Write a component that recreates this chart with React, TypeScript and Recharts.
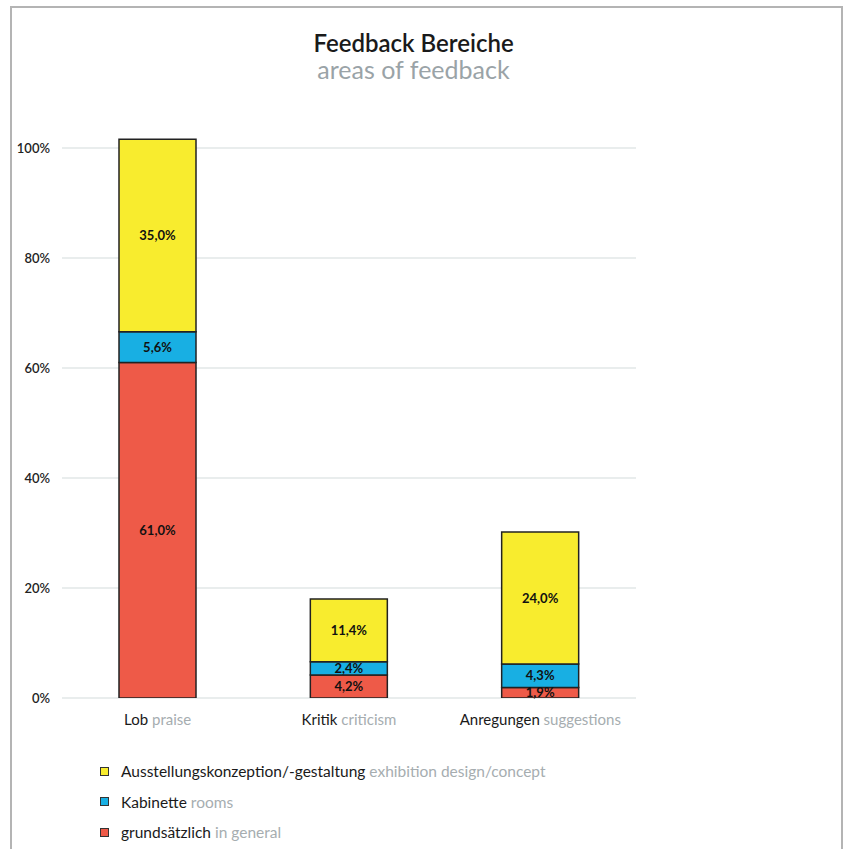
import { BarChart, Bar, XAxis, YAxis, CartesianGrid, LabelList } from 'recharts'

const FONT = 'Lato, "Open Sans", sans-serif'

const categories = ['Lob', 'Kritik', 'Anregungen']
const categoriesEn = ['praise', 'criticism', 'suggestions']
const generalValues = [61.0, 4.2, 1.9]
const roomValues = [5.6, 2.4, 4.3]
const designValues = [35.0, 11.4, 24.0]
const yTicks = [0, 20, 40, 60, 80, 100]
const Y_MAX = 110

const series = [
  { key: 'general', de: 'grundsätzlich', en: 'in general', color: '#EE5A48' },
  { key: 'rooms', de: 'Kabinette', en: 'rooms', color: '#18AFE3' },
  { key: 'design', de: 'Ausstellungskonzeption/-gestaltung', en: 'exhibition design/concept', color: '#F8EC2E' },
]

const data = categories.map((name, i) => ({
  name,
  en: categoriesEn[i],
  general: generalValues[i],
  rooms: roomValues[i],
  design: designValues[i],
}))

const fmt = (v: unknown) => `${Number(v).toFixed(1).replace('.', ',')}%`

// grid only at the labelled ticks, not at the top of the (padded) domain
const gridRows = ({ yAxis, offset }: any) => {
  const scale = yAxis?.scale
  if (typeof scale === 'function') return yTicks.map(t => scale(t))
  return yTicks.map(t => offset.top + offset.height * (1 - t / Y_MAX))
}

function CategoryTick({ x, y, payload, index }: any) {
  return (
    <text x={x} y={y + 19} textAnchor="middle" fontFamily={FONT} fontSize={15}>
      <tspan fill="#1a1a1a">{payload.value}</tspan>
      <tspan fill="#a6adb0"> {categoriesEn[index]}</tspan>
    </text>
  )
}

export default function App() {
  const legendItems = [...series].reverse()
  return (
    <div style={{ position: 'absolute', left: 0, top: 0, width: 847, height: 849, background: '#fff', overflow: 'hidden', fontFamily: FONT }}>
      <div
        style={{
          position: 'absolute', left: 10, top: 6, width: 829, height: 860,
          borderTop: '2px solid #b4b4b4', borderLeft: '2px solid #b4b4b4', borderRight: '2px solid #b4b4b4',
        }}
      />
      <div style={{ position: 'absolute', left: 0, width: 827, top: 29, textAlign: 'center', lineHeight: '27px' }}>
        <div style={{ fontSize: 24, fontWeight: 600, color: '#1a1a1a' }}>Feedback Bereiche</div>
        <div style={{ fontSize: 25, color: '#9aa3a7' }}>areas of feedback</div>
      </div>
      <div style={{ position: 'absolute', left: 0, top: 0 }}>
        <BarChart
          width={847}
          height={760}
          data={data}
          margin={{ top: 93, right: 211, bottom: 0, left: 0 }}
        >
          <CartesianGrid
            vertical={false}
            stroke="#e2e7e7"
            strokeWidth={1.5}
            horizontalCoordinatesGenerator={gridRows}
          />
          <XAxis
            dataKey="name"
            axisLine={false}
            tickLine={false}
            height={62}
            tick={<CategoryTick />}
            interval={0}
          />
          <YAxis
            type="number"
            domain={[0, Y_MAX]}
            ticks={yTicks}
            allowDataOverflow
            width={62}
            axisLine={false}
            tickLine={false}
            tickSize={0}
            tickMargin={12}
            tickFormatter={v => `${v}%`}
            tick={{ fill: '#222', fontSize: 13, fontFamily: FONT, fontWeight: 600 }}
          />
          {series.map(s => (
            <Bar
              key={s.key}
              dataKey={s.key}
              stackId="a"
              fill={s.color}
              stroke="#222"
              strokeWidth={1.5}
              barSize={77}
              isAnimationActive={false}
            >
              <LabelList
                dataKey={s.key}
                position="center"
                formatter={fmt}
                fill="#111"
                fontSize={13}
                fontWeight={700}
                fontFamily={FONT}
              />
            </Bar>
          ))}
        </BarChart>
      </div>
      <div style={{ position: 'absolute', left: 100, top: 756 }}>
        {legendItems.map(s => (
          <div key={s.key} style={{ display: 'flex', alignItems: 'center', height: 30.5, fontSize: 15.5 }}>
            <span
              style={{
                width: 7, height: 7, background: s.color, border: '1.5px solid #333',
                marginRight: 12, display: 'inline-block',
              }}
            />
            <span style={{ color: '#1a1a1a' }}>{s.de}</span>
            <span style={{ color: '#a6adb0', marginLeft: 4 }}>{s.en}</span>
          </div>
        ))}
      </div>
    </div>
  )
}
